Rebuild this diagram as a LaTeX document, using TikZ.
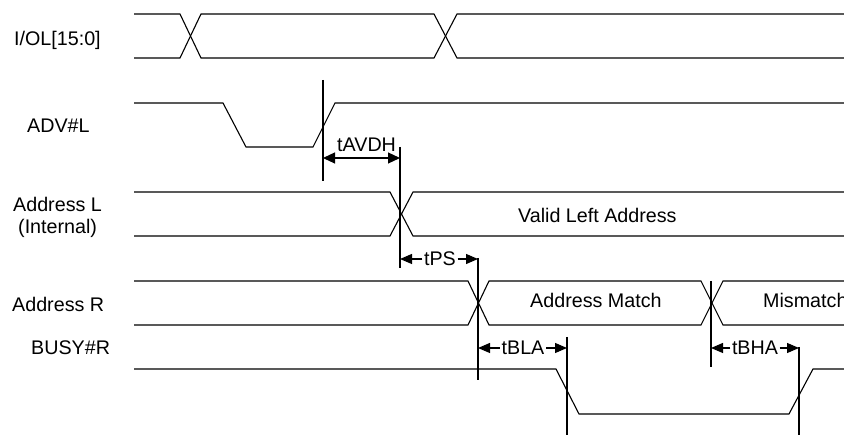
\documentclass[tikz,border=0pt]{standalone}
\usepackage{fontspec}
\setmainfont{Liberation Sans}
\usetikzlibrary{arrows.meta}
\begin{document}
\begin{tikzpicture}[x=1pt,y=-1pt,
  sig/.style={line width=1.1pt,line join=miter},
  vline/.style={line width=1.6pt},
  dimarrow/.style={line width=1.1pt,-{Triangle[length=12pt,width=10pt]}},
  dimboth/.style={line width=1.2pt,{Triangle[length=12pt,width=11pt]}-{Triangle[length=12pt,width=11pt]}},
  lbl/.style={inner sep=0pt,anchor=base west,font=\fontsize{19.7}{23}\selectfont},
  dimlbl/.style={inner sep=1.5pt,anchor=center,font=\fontsize{19.7}{23}\selectfont}]
\clip (0,0) rectangle (844,435);
\useasboundingbox (0,0) rectangle (844,435);
\fill[white] (0,0) rectangle (844,435);

% signal labels
\node[lbl] (lio) at (14,46) {I/OL[15:0]};
\node[lbl] (ladv) at (27,133) {ADV\#L};
\node[lbl] (lal) at (13,212) {Address L};
\node[lbl] (lint) at (18,234) {(Internal)};
\node[lbl] (lar) at (12,312) {Address R};
\node[lbl] (lbusy) at (31,355) {BUSY\#R};

% I/OL[15:0]
\draw[sig] (134,14) -- (180,14) -- (201,58) -- (434,58) -- (457,14) -- (844,14);
\draw[sig] (134,58) -- (180,58) -- (201,14) -- (434,14) -- (457,58) -- (844,58);

% ADV#L
\draw[sig] (134,103) -- (223,103) -- (246,147) -- (313,147) -- (335,103) -- (844,103);

% Address L
\draw[sig] (134,192) -- (390,192) -- (413,236) -- (844,236);
\draw[sig] (134,236) -- (390,236) -- (413,192) -- (844,192);
\node[lbl] (val) at (518,223) {Valid Left Address};

% Address R
\draw[sig] (134,281) -- (468,281) -- (489,325) -- (701,325) -- (723,281) -- (844,281);
\draw[sig] (134,325) -- (468,325) -- (489,281) -- (701,281) -- (723,325) -- (844,325);
\node[lbl] (am) at (530,308) {Address Match};
\node[lbl] (mm) at (763,308) {Mismatch};

% BUSY#R
\draw[sig] (134,369) -- (556,369) -- (579,414) -- (789,414) -- (813,369) -- (844,369);

% vertical reference lines
\coordinate (v1t) at (323,80);  \coordinate (v1b) at (323,181);
\coordinate (v2t) at (400,147); \coordinate (v2b) at (400,268);
\coordinate (v3t) at (478,258); \coordinate (v3b) at (478,380);
\coordinate (v4t) at (567,337); \coordinate (v4b) at (567,435);
\coordinate (v5t) at (711,281); \coordinate (v5b) at (711,367);
\coordinate (v6t) at (799,347); \coordinate (v6b) at (799,435);
\draw[vline] (v1t) -- (v1b);
\draw[vline] (v2t) -- (v2b);
\draw[vline] (v3t) -- (v3b);
\draw[vline] (v4t) -- (v4b);
\draw[vline] (v5t) -- (v5b);
\draw[vline] (v6t) -- (v6b);

% tAVDH
\coordinate (a1l) at (323,158); \coordinate (a1r) at (400,158);
\draw[dimboth] (a1l) -- (a1r);
\node[lbl] (tavdh) at (337,152) {tAVDH};

% tPS
\node[dimlbl] (tps) at (440,259) {tPS};
\coordinate (a2l) at (400,259); \coordinate (a2r) at (478,259);
\draw[dimarrow] (tps.west) -- (a2l);
\draw[dimarrow] (tps.east) -- (a2r);

% tBLA
\node[dimlbl] (tbla) at (523,348) {tBLA};
\coordinate (a3l) at (478,348); \coordinate (a3r) at (567,348);
\draw[dimarrow] (tbla.west) -- (a3l);
\draw[dimarrow] (tbla.east) -- (a3r);

% tBHA
\node[dimlbl] (tbha) at (755,348) {tBHA};
\coordinate (a4l) at (711,348); \coordinate (a4r) at (799,348);
\draw[dimarrow] (tbha.west) -- (a4l);
\draw[dimarrow] (tbha.east) -- (a4r);
\end{tikzpicture}
\end{document}
